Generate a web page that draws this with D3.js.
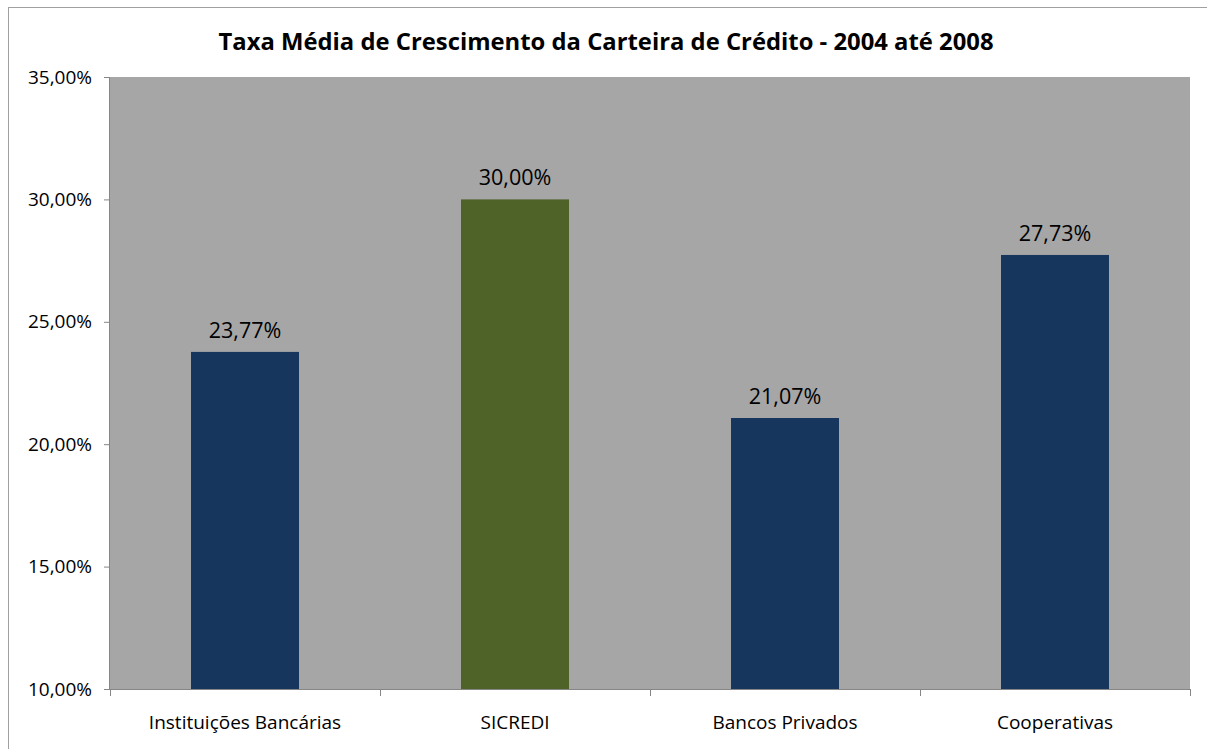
<!DOCTYPE html>
<html>
<head>
<meta charset="utf-8">
<script src="https://cdn.jsdelivr.net/npm/d3@7"></script>
<style>
  html, body { margin: 0; padding: 0; background: #fff; }
  svg { display: block; }
  text { font-family: "Open Sans", "Liberation Sans", sans-serif; fill: #000; }
</style>
</head>
<body>
<svg id="chart" width="1207" height="749"></svg>
<script>
const title = "Taxa Média de Crescimento da Carteira de Crédito - 2004 até 2008";
const categories = ["Instituições Bancárias", "SICREDI", "Bancos Privados", "Cooperativas"];
const values = [23.77, 30.00, 21.07, 27.73];
const barColors = ["#17365D", "#4F6228", "#17365D", "#17365D"];
const yTicks = [10, 15, 20, 25, 30, 35];
const yDomain = [10, 35];

const svg = d3.select("#chart");
const W = 1207, H = 749;
const m = { left: 110, right: 17, top: 77, bottom: 60 };
const pw = W - m.left - m.right, ph = H - m.top - m.bottom;

const locale = d3.formatLocale({ decimal: ",", thousands: ".", grouping: [3], currency: ["R$", ""] });
const fmt = v => locale.format(".2f")(v) + "%";

// outer border
svg.append("rect").attr("x", 8.5).attr("y", 7.5).attr("width", W).attr("height", H)
  .attr("fill", "#fff").attr("stroke", "#a0a0a0").attr("stroke-width", 1);

const g = svg.append("g").attr("transform", `translate(${m.left},${m.top})`);

const x = d3.scaleBand().domain(categories).range([0, pw]).paddingInner(0.6).paddingOuter(0.3);
const y = d3.scaleLinear().domain(yDomain).range([ph, 0]);

// plot background
g.append("rect").attr("x", 0).attr("y", 0).attr("width", pw).attr("height", ph).attr("fill", "#A6A6A6");

// bars
g.selectAll("rect.bar").data(values).join("rect").attr("class", "bar")
  .attr("x", (d, i) => x(categories[i]))
  .attr("width", x.bandwidth())
  .attr("y", d => y(d))
  .attr("height", d => ph - y(d))
  .attr("fill", (d, i) => barColors[i]);

// data labels
g.selectAll("text.lbl").data(values).join("text").attr("class", "lbl")
  .attr("x", (d, i) => x(categories[i]) + x.bandwidth() / 2)
  .attr("y", d => y(d) - 14)
  .attr("text-anchor", "middle")
  .style("font-size", "21.5px")
  .text(d => fmt(d));

// y axis
const yAxis = d3.axisLeft(y).tickValues(yTicks).tickSize(6).tickPadding(12).tickFormat(fmt);
const ya = g.append("g").call(yAxis);
ya.select(".domain").attr("stroke", "#868686").attr("d", `M-0.5,${ph}V0`);
ya.selectAll(".tick line").attr("stroke", "#868686");
ya.selectAll(".tick text").style("font-size", "19px").attr("fill", "#000");

// x axis
const xa = g.append("g").attr("transform", `translate(0,${ph})`)
  .call(d3.axisBottom(x).tickSize(0).tickPadding(27));
xa.select(".domain").attr("stroke", "#868686").attr("d", `M0,0.5H${pw}`);
xa.selectAll(".tick text").style("font-size", "19px").attr("fill", "#000");
const bounds = d3.range(categories.length + 1).map(i => i * x.step());
xa.selectAll("line.bound").data(bounds).join("line").attr("class", "bound")
  .attr("x1", d => d + 0.5).attr("x2", d => d + 0.5).attr("y1", 0).attr("y2", 7)
  .attr("stroke", "#868686");

// title
svg.append("text").attr("x", 606).attr("y", 50).attr("text-anchor", "middle")
  .style("font-size", "23px").style("font-weight", "bold")
  .attr("textLength", 775).attr("lengthAdjust", "spacingAndGlyphs")
  .text(title);
</script>
</body>
</html>
